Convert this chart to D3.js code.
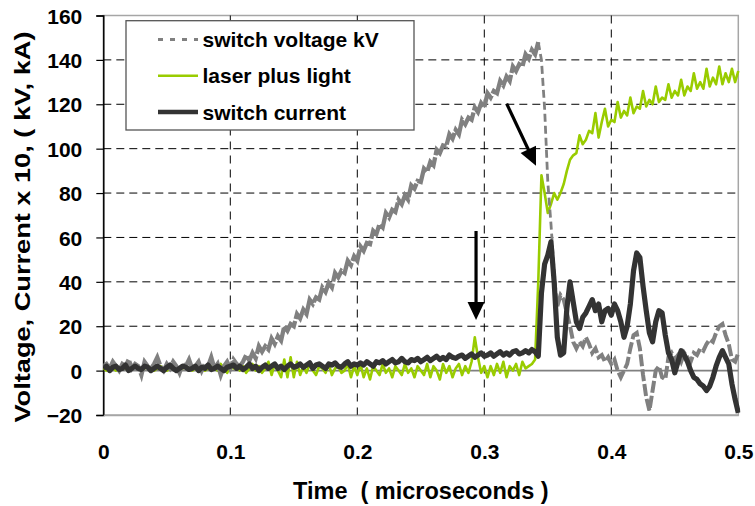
<!DOCTYPE html>
<html>
<head>
<meta charset="utf-8">
<script src="https://cdn.jsdelivr.net/npm/d3@7"></script>
<style>
  html, body { margin: 0; padding: 0; background: #fff; }
  svg text { font-family: "Liberation Sans", Arial, sans-serif; font-weight: bold; fill: #000; }
</style>
</head>
<body>
<svg id="chart" width="755" height="506"></svg>
<script>
// ---- data (oscilloscope samples, one every 0.0025 microseconds from t = 0) ----
const sampleStep = 0.0025;
const xTicks = [0, 0.1, 0.2, 0.3, 0.4, 0.5];
const yTicks = [-20, 0, 20, 40, 60, 80, 100, 120, 140, 160];
const seriesNames = ["switch voltage kV", "laser plus light", "switch current"];

const switchVoltage = [
  2,3,1,4,2,0,3,2,5,1,3,2,-2,4,2,1,3,6,2,0,3,1,4,2,-1,3,2,5,1,2,4,0,3,2,6,1,3,-2,2,4,1,5,3,2,4,
  7,4.5,8,5.5,11,8.5,11,9.5,14.5,12,15.5,13.5,20,18,21,20,25.5,23.5,27.5,25.5,32,30,33,32,
  37.5,35.5,39.5,37.5,44,42,45,44,49.5,47.5,51.5,49.5,56,54,57.5,57,63,61.5,66,64.5,71,69,
  72.5,71.5,77,75,79,77,83.5,82,85.5,85,91,89.5,94,92.5,99.5,98,101.5,101,106.5,104.5,108.5,
  106.5,113,111,114,113,118.5,116.5,120.5,118.5,125,123,126,125,130.5,128.5,132.5,130.5,137,
  135,138,137,142.5,140.5,144.5,142.5,148,
  140,118,85,66,45,29,34,32,26,20,13,10,13,11,15,12,8,10,6,7,4,6,3,5,0,-3,0,3,10,16,17,10,
  -2,-12,-18,-9,0,2,-3,-4,6,8,5,7,4,8,6,4,8,7,10,9,12,14,13,17,20,21,16,12,5,4,8
];

const laserLight = [
  1,0,2,1,0,1,2,1,0,1,2,1,0,1,2,1,0,1,2,1,0,1,2,1,0,1,2,1,0,1,2,1,0,1,2,1,0,3,1,-1,2,
  1,3,0,2,-1,1,3,0,2,-1,1,4,-2,3,0,-3,5,-3,6,-3,
  4,-2,2,-1,3,0,-2,2,1,-1,3,-2,1,2,-1,0,3,-3,2,-2,
  3,-3,1,-4,2,0,-2,3,-1,1,-3,2,0,-2,3,-1,1,-3,2,0,
  -2,3,-3,2,0,-4,3,-1,2,-3,1,3,-2,2,-1,4,15,6,-1,2,
  -3,2,-2,3,-1,4,-3,2,0,3,-2,4,1,2,3,5,
  40,88,80,71,75,80,77,80,84,90,95,97,98,106,102,104,108,107,116,105,112,118,110,113,112,
  121,114,117,115,123,116,119,118,126,119,122,120,128,121,123,122,129,123,126,124,131,124,
  128,126,134,127,130,127,136,128,132,129,137,129,134,130,136,130,135
];

const switchCurrent = [
  1,2,0,1.5,2,0.5,1,2.5,0,1,2,1,0.5,2,1.5,0,1,2,1,0,1.5,2.5,1,0,1,2,1.5,0.5,1,2,0,1.5,1,2.5,0.5,1,2,1,0,1.5,2,
  2.5,1,2,0.5,1.5,3,1,2,0,1.5,2.5,1,2,3,1,2,0.5,2,3,1.5,
  2,3,1.5,2.5,3.5,1,2.5,3,2,1,3,2.5,3.5,2,1.5,3,4,2,3,2.5,
  3.5,2.5,4,3,2,4,3.5,4.5,3,4,5,3.5,4,5.5,4,3.5,5,4.5,5.5,4,
  5,6,4.5,5.5,6.5,5,6,5,7,6,5.5,6.5,7,5.5,6.5,7.5,6,7,8,6.5,
  7,8,6.5,7.5,8.5,7,8,7,8.5,9,7.5,8,9,8,9.5,8.5,
  6.5,35,48,52,58,40,15,7,8,28,40,31,22,19,24,26,29,32,27,30,22,27,28,25,30,27,22,15,20,30,
  45,53,51,38,27,17,13,22,27,26,16,8,5,-1,4,9,7,4,0,-3,-4,-6,-7,-9,-7,-3,2,6,9,6,3,-6,-13,-19
];

// sample index range of the fast voltage collapse (drawn as a thin dashed trace)
const voltageCollapse = [137, 143];

// annotation arrows, in data units (tail -> tip)
const arrowTails = [[0.3176, 120.3], [0.2935, 62.9]];
const arrowTips  = [[0.3407, 92.3], [0.2935, 22.8]];

// ---- drawing ----
const svg = d3.select("#chart");
const M = { left: 103.3, right: 738.3, top: 15.5, bottom: 415 };
const x = d3.scaleLinear().domain([0, 0.5]).range([M.left, M.right]);
const y = d3.scaleLinear().domain([-20, 160]).range([M.bottom, M.top]);

svg.append("rect")
  .attr("x", M.left).attr("y", M.top)
  .attr("width", M.right - M.left).attr("height", M.bottom - M.top)
  .attr("fill", "#fff").attr("stroke", "#a6a6a6").attr("stroke-width", 1.5);

const g = svg.append("g");
g.selectAll(".hg").data(yTicks.filter(v => v > -20 && v < 160 && v !== 0)).join("line")
  .attr("x1", M.left).attr("x2", M.right)
  .attr("y1", d => y(d)).attr("y2", d => y(d))
  .attr("stroke", "#000").attr("stroke-width", 1).attr("stroke-dasharray", "8,5");
g.selectAll(".vg").data(xTicks.filter(v => v > 0 && v < 0.5)).join("line")
  .attr("x1", d => x(d)).attr("x2", d => x(d))
  .attr("y1", M.top).attr("y2", M.bottom)
  .attr("stroke", "#000").attr("stroke-width", 1).attr("stroke-dasharray", "8,6");
g.append("line").attr("x1", M.left).attr("x2", M.right)
  .attr("y1", y(0)).attr("y2", y(0)).attr("stroke", "#808080").attr("stroke-width", 1.8);

const yAxis = d3.axisLeft(y).tickValues(yTicks).tickSize(7).tickFormat(d3.format("d"));
const ya = svg.append("g").attr("transform", `translate(${M.left},0)`).call(yAxis);
ya.select(".domain").attr("stroke", "#000").attr("stroke-width", 1.5);
ya.selectAll(".tick line").attr("stroke", "#000").attr("stroke-width", 1.2);
ya.selectAll(".tick text").attr("x", -21).attr("dy", "0.36em")
  .style("font-size", "21px").attr("fill", "#000");

const xAxis = d3.axisBottom(x).tickValues(xTicks).tickSize(0)
  .tickFormat(d => d === 0 ? "0" : d3.format(".1f")(d));
const xa = svg.append("g").attr("transform", `translate(0,${M.bottom})`).call(xAxis);
xa.select(".domain").attr("stroke", "#a6a6a6").attr("stroke-width", 1.5);
xa.selectAll(".tick text").attr("y", 44).attr("dy", 0)
  .style("font-size", "21px").attr("fill", "#000");

svg.append("text").attr("x", (M.left + M.right) / 2).attr("y", 499)
  .attr("text-anchor", "middle").style("font-size", "23.5px")
  .attr("xml:space", "preserve").text("Time  ( microseconds )");
svg.append("text")
  .attr("transform", "translate(29.5,227) rotate(-90)")
  .attr("text-anchor", "middle").style("font-size", "22px")
  .attr("textLength", 391).attr("lengthAdjust", "spacingAndGlyphs")
  .text("Voltage, Current x 10, ( kV, kA)");

// series
const line = d3.line().x(d => x(d[0] * sampleStep)).y(d => y(d[1]));
const indexed = arr => arr.map((v, i) => [i, v]);
svg.append("clipPath").attr("id", "clip").append("rect")
  .attr("x", M.left).attr("y", M.top - 3).attr("width", M.right - M.left + 2).attr("height", M.bottom - M.top + 6);
const series = svg.append("g").attr("clip-path", "url(#clip)");

series.append("path").datum(indexed(laserLight)).attr("d", line)
  .attr("fill", "none").attr("stroke", "#99cc00").attr("stroke-width", 2.6).attr("stroke-linejoin", "round");

const vPts = indexed(switchVoltage);
const [c0, c1] = voltageCollapse;
series.append("path").datum(vPts.slice(0, c0 + 1)).attr("d", line)
  .attr("fill", "none").attr("stroke", "#808080").attr("stroke-width", 4.3)
  .attr("stroke-dasharray", "22,2");
series.append("path").datum(vPts.slice(c0, c1 + 1)).attr("d", line)
  .attr("fill", "none").attr("stroke", "#808080").attr("stroke-width", 2.8)
  .attr("stroke-dasharray", "8,4");
series.append("path").datum(vPts.slice(c1)).attr("d", line)
  .attr("fill", "none").attr("stroke", "#808080").attr("stroke-width", 4)
  .attr("stroke-dasharray", "12,3");

series.append("path").datum(indexed(switchCurrent)).attr("d", line)
  .attr("fill", "none").attr("stroke", "#333333").attr("stroke-width", 5.2).attr("stroke-linejoin", "round");

// arrows (shaft + filled head)
const headLen = 18, headHalf = 8.5;
arrowTails.forEach((tail, i) => {
  const x0 = x(tail[0]), y0 = y(tail[1]);
  const x1 = x(arrowTips[i][0]), y1 = y(arrowTips[i][1]);
  const L = Math.hypot(x1 - x0, y1 - y0), ux = (x1 - x0) / L, uy = (y1 - y0) / L;
  const bx = x1 - ux * headLen, by = y1 - uy * headLen;
  svg.append("line").attr("x1", x0).attr("y1", y0).attr("x2", bx + ux * 2).attr("y2", by + uy * 2)
    .attr("stroke", "#000").attr("stroke-width", 3.2);
  svg.append("path")
    .attr("d", `M${x1},${y1} L${bx - uy * headHalf},${by + ux * headHalf} L${bx + uy * headHalf},${by - ux * headHalf} Z`)
    .attr("fill", "#000");
});

// legend
const lg = svg.append("g");
lg.append("rect").attr("x", 126).attr("y", 20.7).attr("width", 288).attr("height", 109.3)
  .attr("fill", "#fff").attr("stroke", "#555").attr("stroke-width", 1.3);
const legendStyles = [
  { color: "#808080", width: 3, dash: "5,7" },
  { color: "#99cc00", width: 2.6, dash: null },
  { color: "#333333", width: 4.5, dash: null }
];
seriesNames.forEach((name, i) => {
  const cy = 39.5 + i * 36.3;
  lg.append("line").attr("x1", 158).attr("x2", 198).attr("y1", cy).attr("y2", cy)
    .attr("stroke", legendStyles[i].color).attr("stroke-width", legendStyles[i].width)
    .attr("stroke-dasharray", legendStyles[i].dash);
  lg.append("text").attr("x", 202.5).attr("y", cy + 7.5).style("font-size", "21px").text(name);
});
</script>
</body>
</html>
